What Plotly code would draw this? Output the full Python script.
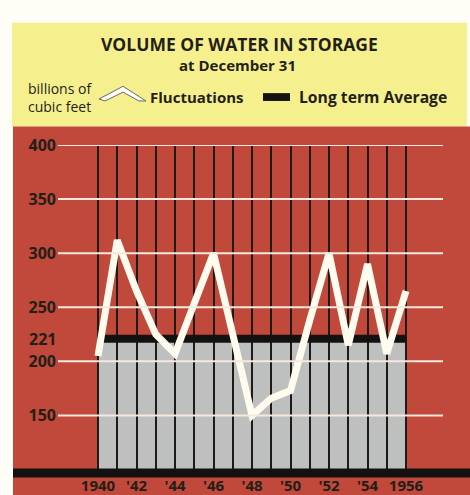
import plotly.graph_objects as go

# Volume of water in storage at December 31 (billions of cubic feet)
years = list(range(1940, 1957))
volume = [205, 312, 265, 225, 207, 253, 300, 225, 150, 166, 173, 238, 300, 215, 290, 207, 265]
long_term_average = 221

grid_values = [150, 200, 250, 300, 350, 400]
x_tick_text = ["1940" if y == 1940 else "1956" if y == 1956 else
               ("'" + str(y)[2:] if y % 2 == 0 else "") for y in years]

W, H = 470, 495
Y_MIN, Y_MAX = 100, 400

YELLOW = "#F6EF8E"
RED = "#C1493B"
GRAY = "#BEBFBF"
INK = "#231F18"
CREAM = "#FFFBEE"
FONT = "Open Sans"


def px(x):
    return x / W


def py(y):
    return 1 - y / H


# x axis: 1940 at 98 px, 19.25 px per year, domain 58..443 px
px_per_year = 19.25
x0_range = years[0] - (98 - 58) / px_per_year
x1_range = years[0] + (443 - 98) / px_per_year

fig = go.Figure()

# long term average band
fig.add_trace(go.Scatter(
    x=[years[0], years[-1]], y=[long_term_average, long_term_average],
    mode="lines", line=dict(color="#141210", width=8),
    hoverinfo="skip", showlegend=False))

# yearly fluctuations
fig.add_trace(go.Scatter(
    x=years, y=volume, mode="lines",
    line=dict(color=CREAM, width=7),
    hoverinfo="skip", showlegend=False))

shapes = [
    # yellow title panel
    dict(type="rect", xref="paper", yref="paper", x0=px(12), x1=px(467),
         y0=py(118), y1=py(12), fillcolor=YELLOW, line_width=0, layer="below"),
    # red chart panel
    dict(type="rect", xref="paper", yref="paper", x0=px(13), x1=px(470),
         y0=py(495), y1=py(118), fillcolor=RED, line_width=0, layer="below"),
    # gray area under the long term average
    dict(type="rect", xref="x", yref="y", x0=years[0], x1=years[-1],
         y0=Y_MIN, y1=long_term_average, fillcolor=GRAY, line_width=0,
         layer="below"),
    # base band along the bottom
    dict(type="rect", xref="paper", yref="paper", x0=px(13), x1=px(470),
         y0=py(477), y1=py(468), fillcolor="#141210", line_width=0,
         layer="above"),
]
# white value lines across the whole chart
for v in grid_values:
    shapes.append(dict(type="line", xref="x domain", yref="y", x0=0, x1=1,
                       y0=v, y1=v, line=dict(color="#F6E8DE", width=2),
                       layer="above"))
# legend symbols
chevron = [(99, 90), (123, 77), (146, 92), (139, 92), (123, 83), (105, 92)]
path = "M " + " L ".join(f"{px(a):.5f},{py(b):.5f}" for a, b in chevron) + " Z"
shapes.append(dict(type="path", xref="paper", yref="paper", path=path,
                   fillcolor="#FFFFFF", line=dict(color="#6B6A5A", width=1)))
shapes.append(dict(type="rect", xref="paper", yref="paper", x0=px(263), x1=px(290),
                   y0=py(92), y1=py(84), fillcolor="#141210", line_width=0))

bold = dict(family=FONT, weight="bold", color=INK)
annotations = [
    dict(text="VOLUME OF WATER IN STORAGE", x=px(239), y=py(34),
         font=dict(size=17.5, **bold)),
    dict(text="at December 31", x=px(238), y=py(55), font=dict(size=15, **bold)),
    dict(text="billions of<br>cubic feet", x=px(26), y=py(88), xanchor="left",
         align="left", font=dict(family=FONT, size=14, color=INK)),
    dict(text="Fluctuations", x=px(148), y=py(88), xanchor="left",
         font=dict(size=15, **bold)),
    dict(text="Long term Average", x=px(297), y=py(88), xanchor="left",
         font=dict(size=15.7, **bold)),
]
for a in annotations:
    a.setdefault("xanchor", "center")
    a.update(xref="paper", yref="paper", yanchor="middle", showarrow=False)

# label for the long term average on the value scale
annotations.append(dict(text=str(long_term_average), xref="paper", yref="y",
                        x=px(57.5), y=long_term_average, xanchor="right",
                        yanchor="middle", showarrow=False,
                        font=dict(size=16, **bold)))

fig.update_layout(
    width=W, height=H,
    margin=dict(l=0, r=0, t=0, b=0),
    paper_bgcolor="#FEFEF7",
    plot_bgcolor="rgba(0,0,0,0)",
    shapes=shapes,
    annotations=annotations,
    xaxis=dict(domain=[px(58), px(443)], range=[x0_range, x1_range],
               tickvals=years, ticktext=x_tick_text, showgrid=True,
               gridcolor="#1E1A16", gridwidth=1.5, zeroline=False,
               showline=False, ticks="", ticklabelstandoff=5,
               tickfont=dict(size=15, **bold)),
    yaxis=dict(domain=[py(469), py(137)], range=[Y_MIN, Y_MAX],
               tickvals=grid_values, showgrid=False, zeroline=False,
               showline=False, ticks="", ticklabelstandoff=1,
               tickfont=dict(size=16, **bold)),
)

fig.write_html("out.html")
